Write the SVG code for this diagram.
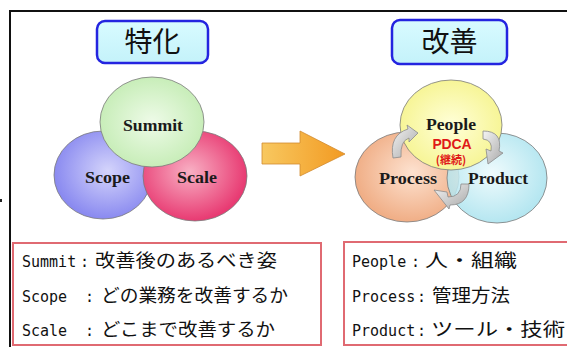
<svg xmlns="http://www.w3.org/2000/svg" width="567" height="347" viewBox="0 0 567 347">
<defs>
<radialGradient id="gSummit" cx="50%" cy="50%" r="55%"><stop offset="0" stop-color="#eefbe8"/><stop offset="1" stop-color="#c4ecb4"/></radialGradient>
<radialGradient id="gScope" cx="55%" cy="45%" r="55%"><stop offset="0" stop-color="#d4d4fb"/><stop offset="1" stop-color="#8a8af0"/></radialGradient>
<radialGradient id="gScale" cx="45%" cy="45%" r="55%"><stop offset="0" stop-color="#f8b0c4"/><stop offset="1" stop-color="#e83a72"/></radialGradient>
<radialGradient id="gPeople" cx="50%" cy="50%" r="55%"><stop offset="0" stop-color="#ffffd8"/><stop offset="1" stop-color="#f6f490"/></radialGradient>
<radialGradient id="gProcess" cx="55%" cy="45%" r="55%"><stop offset="0" stop-color="#fde2d0"/><stop offset="1" stop-color="#f0ae86"/></radialGradient>
<radialGradient id="gProduct" cx="45%" cy="45%" r="55%"><stop offset="0" stop-color="#ecfafc"/><stop offset="1" stop-color="#a8e2ee"/></radialGradient>
<linearGradient id="gTitle" x1="0" y1="0" x2="0" y2="1"><stop offset="0" stop-color="#d8fbff"/><stop offset="1" stop-color="#c4f2fa"/></linearGradient>
<linearGradient id="gArrow" x1="0" y1="0" x2="1" y2="0"><stop offset="0" stop-color="#f8c860"/><stop offset="1" stop-color="#f29a22"/></linearGradient>
<linearGradient id="gCyc" x1="0" y1="0" x2="1" y2="1"><stop offset="0" stop-color="#f4f4f4"/><stop offset="1" stop-color="#a8a8a8"/></linearGradient>
</defs>
<style>
.title{fill:url(#gTitle);stroke:#2424e0;stroke-width:2.5}
.ttl{font-family:"Noto Sans CJK JP","Noto Sans",sans-serif;font-size:28px;fill:#111;text-anchor:middle}
.circ{stroke:#7a7a7a;stroke-width:0.8}
.lbl{font-family:"Liberation Serif","DejaVu Serif",serif;font-size:17px;font-weight:bold;fill:#1a1a1a;text-anchor:middle}
.box{fill:#fff;stroke:#e06a72;stroke-width:2}
.bt{font-family:"DejaVu Sans Mono","Noto Sans CJK JP",monospace;font-size:15px;fill:#111}
.jp{font-family:"Noto Sans CJK JP",sans-serif;font-size:18px}
.cyc{fill:url(#gCyc);stroke:#8a8a8a;stroke-width:0.8}
</style>
<rect width="567" height="347" fill="#fff"/>
<path d="M10 347 V11 H568" fill="none" stroke="#111" stroke-width="2"/>
<rect x="0" y="199" width="2" height="3" fill="#222"/>

<g id="title-tokka">
<rect class="title" x="97" y="21" width="111" height="42" rx="8"/>
<text class="ttl" x="152.5" y="52">特化</text>
</g>
<g id="title-kaizen">
<rect class="title" x="392" y="20" width="115" height="44" rx="8"/>
<text class="ttl" x="449.5" y="52">改善</text>
</g>

<g id="scope">
<ellipse class="circ" cx="103" cy="175" rx="49" ry="44" fill="url(#gScope)"/>
<text class="lbl" x="107.5" y="183" textLength="45" lengthAdjust="spacingAndGlyphs">Scope</text>
</g>
<g id="scale">
<ellipse class="circ" cx="195" cy="176" rx="52" ry="45" fill="url(#gScale)"/>
<text class="lbl" x="197" y="183" textLength="40" lengthAdjust="spacingAndGlyphs">Scale</text>
</g>
<g id="summit">
<ellipse class="circ" cx="152" cy="122" rx="52" ry="45" fill="url(#gSummit)"/>
<text class="lbl" x="153" y="131" textLength="60" lengthAdjust="spacingAndGlyphs">Summit</text>
</g>

<g id="arrow">
<polygon points="262,143 300,143 300,131 345,154 300,176 300,164 262,164" fill="url(#gArrow)" stroke="#d08a30" stroke-width="0.8"/>
</g>

<g id="process">
<ellipse class="circ" cx="407" cy="177" rx="52" ry="45" fill="url(#gProcess)"/>
</g>
<g id="product">
<ellipse class="circ" cx="497" cy="178" rx="50" ry="45" fill="url(#gProduct)" fill-opacity="0.85"/>
</g>
<g id="people">
<ellipse class="circ" cx="451" cy="125" rx="51" ry="45" fill="url(#gPeople)"/>
<text class="lbl" x="451" y="130" textLength="50" lengthAdjust="spacingAndGlyphs">People</text>
<text x="452" y="149" font-family="Liberation Sans,Arial,sans-serif" font-size="14" font-weight="bold" fill="#e01818" text-anchor="middle" textLength="39">PDCA</text>
<text x="451" y="164" font-family="Noto Sans CJK JP,sans-serif" font-size="11" font-weight="bold" fill="#e01818" text-anchor="middle">(継続)</text>
</g>
<g id="process-label"><text class="lbl" x="408" y="184" textLength="58" lengthAdjust="spacingAndGlyphs">Process</text></g>
<g id="product-label"><text class="lbl" x="498" y="184" textLength="60" lengthAdjust="spacingAndGlyphs">Product</text></g>

<g id="connectors">
<path class="cyc" d="M393 158 Q389 135 408 129 L407 125 L418 133 L409 142 L409 138 Q400 141 401 157 Z"/>
<path class="cyc" d="M483 131 Q503 131 499 151 L503 153 L488 164 L486 149 L491 151 Q493 140 483 139 Z"/>
<path class="cyc" d="M469 184 Q469 205 450 205 L449 209 L434 190 L447 192 L448 197 Q461 197 461 184 Z"/>
</g>

<g id="summary-left">
<rect class="box" x="13" y="243" width="308" height="102"/>
<text class="bt" y="267"><tspan x="22">Summit</tspan><tspan x="80">:</tspan><tspan class="jp" x="95" textLength="182" lengthAdjust="spacingAndGlyphs">改善後のあるべき姿</tspan></text>
<text class="bt" y="302"><tspan x="22">Scope</tspan><tspan x="85">:</tspan><tspan class="jp" x="101" textLength="187" lengthAdjust="spacingAndGlyphs">どの業務を改善するか</tspan></text>
<text class="bt" y="336"><tspan x="22">Scale</tspan><tspan x="85">:</tspan><tspan class="jp" x="101" textLength="174" lengthAdjust="spacingAndGlyphs">どこまで改善するか</tspan></text>
</g>
<g id="summary-right">
<rect class="box" x="344" y="242" width="230" height="103"/>
<text class="bt" y="267"><tspan x="352">People</tspan><tspan x="411">:</tspan><tspan class="jp" x="425" textLength="92" lengthAdjust="spacingAndGlyphs">人・組織</tspan></text>
<text class="bt" y="302"><tspan x="352">Process</tspan><tspan x="417">:</tspan><tspan class="jp" x="432" textLength="78" lengthAdjust="spacingAndGlyphs">管理方法</tspan></text>
<text class="bt" y="336"><tspan x="352">Product</tspan><tspan x="417">:</tspan><tspan class="jp" x="431" textLength="134" lengthAdjust="spacingAndGlyphs">ツール・技術</tspan></text>
</g>
</svg>
